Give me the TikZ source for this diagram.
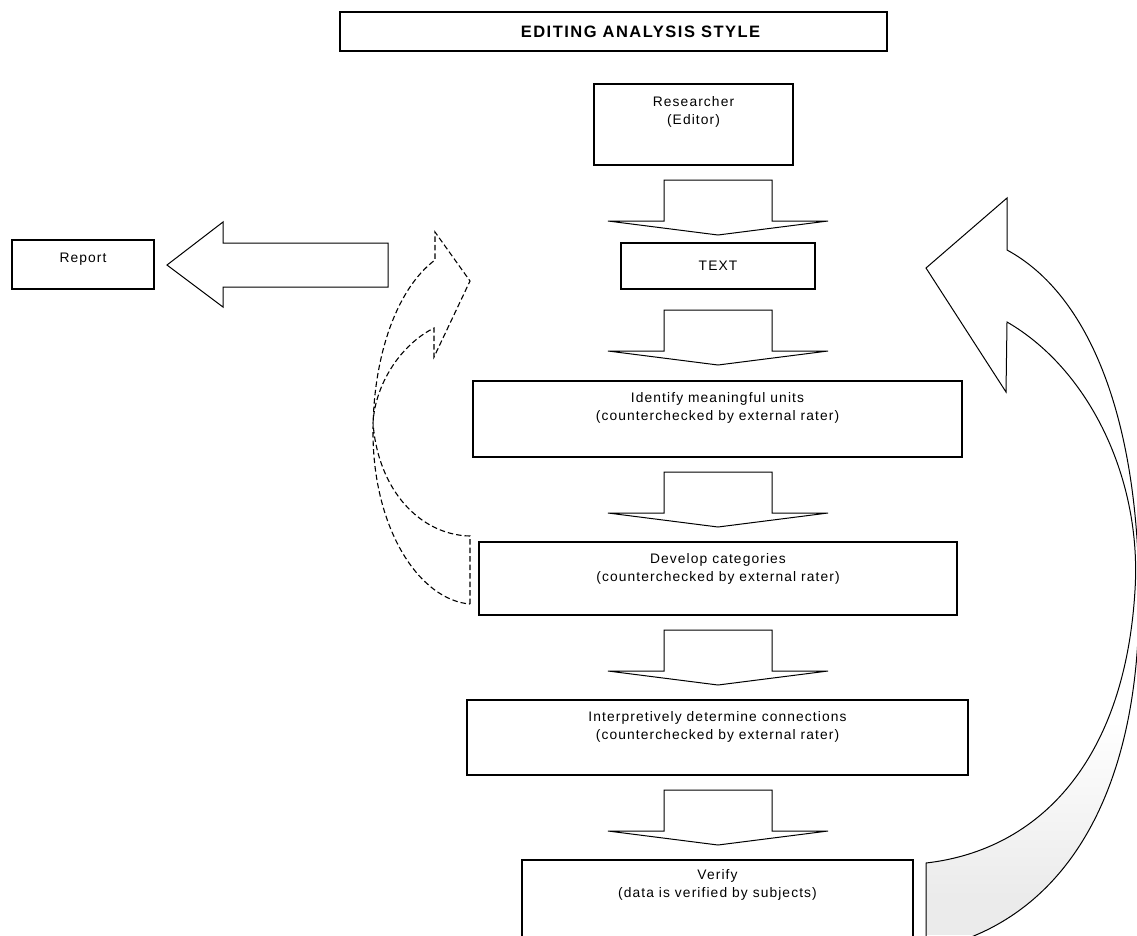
\documentclass[tikz,border=0pt]{standalone}
\usepackage{fontspec}
\setmainfont{Liberation Sans}
\newfontfamily\boxfont[LetterSpace=8]{Liberation Sans}
\newfontfamily\ttlfont[LetterSpace=9]{Liberation Sans}
\usetikzlibrary{calc}
\begin{document}
\begin{tikzpicture}[x=1pt,y=-1pt,
  box/.style={draw, line width=1.3pt, rectangle, inner sep=0pt},
  boxtext/.style={anchor=north, align=center, inner sep=0pt, font=\boxfont\fontsize{13.8}{17.5}\selectfont},
  blockarrow/.style={draw, line width=1pt, line join=miter, fill=white},
  downblock/.pic={\draw[blockarrow] (-54,0) -- (54,0) -- (54,41) -- (110,41) -- (0,55) -- (-110,41) -- (-54,41) -- cycle;},
  dashedarrow/.style={draw, line width=1.1pt, dash pattern=on 5.5pt off 3pt},
  curvedarrow/.style={draw, line width=1pt, line join=miter}
]
\useasboundingbox (0,0) rectangle (1137,935);
\clip (0,0) rectangle (1137,935);

% boxes
\node[box, minimum width=547, minimum height=39] (title) at (613.5,31.5) {};
\node[inner sep=0pt] (titletext) at ($(title.center)+(27,0)$)
  {\ttlfont\bfseries\fontsize{16.5}{19}\selectfont EDITING ANALYSIS STYLE};
\node[box, minimum width=199, minimum height=81] (researcher) at (693.5,124.5) {};
\node[box, minimum width=194, minimum height=46] (txt) at (718,266)
  {\boxfont\fontsize{13.8}{17.5}\selectfont TEXT};
\node[box, minimum width=489, minimum height=76] (identify) at (717.5,419) {};
\node[box, minimum width=478, minimum height=73] (develop) at (718,578.5) {};
\node[box, minimum width=501, minimum height=75] (interp) at (717.5,737.5) {};
\node[box, minimum width=391, minimum height=110] (verify) at (717.5,915) {};
\node[box, minimum width=142, minimum height=49] (report) at (83,264.5) {};

% texts
\node[boxtext] (researchertext) at ($(researcher.north)+(0,13)$) {Researcher\\(Editor)};
\node[boxtext] (identifytext) at ($(identify.north)+(0,12)$) {Identify meaningful units\\(counterchecked by external rater)};
\node[boxtext] (developtext) at ($(develop.north)+(0,12)$) {Develop categories\\(counterchecked by external rater)};
\node[boxtext] (interptext) at ($(interp.north)+(0,12)$) {Interpretively determine connections\\(counterchecked by external rater)};
\node[boxtext] (verifytext) at ($(verify.north)+(0,10)$) {Verify\\(data is verified by subjects)};
\node[boxtext] (reporttext) at ($(report.north)+(0,13)$) {Report};

% down block arrows
\pic at (718,180) {downblock};
\pic at (718,310) {downblock};
\pic at (718,472) {downblock};
\pic at (718,630) {downblock};
\pic at (718,790) {downblock};

% left block arrow to report
\draw[blockarrow] (388,243) -- (223,243) -- (223,222) -- (167,265) -- (223,307) -- (223,287) -- (388,287) -- cycle;

% dashed curved arrow
\draw[dashedarrow] (470,604) -- (470,536)
  .. controls (420,535) and (378,490) .. (373,423)
  .. controls (375,385) and (400,345) .. (434,328)
  -- (434,357) -- (470,281) -- (435,232) -- (435,260)
  .. controls (395,290) and (373,360) .. (373,432)
  .. controls (373,530) and (420,600) .. (470,604) -- cycle;

% big curved arrow on the right
\def\bandpath{(926,960) -- (926,863)
  .. controls (1040,850) and (1125,760) .. (1135,590)
  .. controls (1142,480) and (1090,370) .. (1007,322)
  -- (1006,392) -- (926,268) -- (1007,198) -- (1007,250)
  .. controls (1090,295) and (1139,420) .. (1139,600)
  .. controls (1139,800) and (1060,925) .. (926,950) -- cycle}
\begin{scope}
  \clip \bandpath;
  \shade[top color=white, bottom color=black!8] (926,720) rectangle (1137,900);
  \fill[black!8] (926,900) rectangle (1137,935);
\end{scope}
\draw[curvedarrow] \bandpath;
\end{tikzpicture}
\end{document}
